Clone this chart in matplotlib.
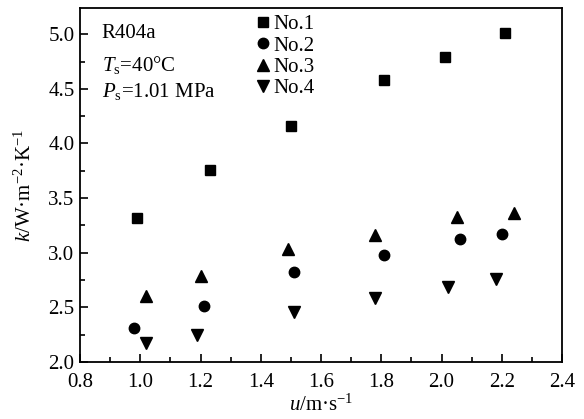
import numpy as np
import matplotlib
matplotlib.use("Agg")
import matplotlib.pyplot as plt
from matplotlib.ticker import MultipleLocator

plt.rcParams['font.family'] = ['Liberation Serif', 'DejaVu Serif']
plt.rcParams['mathtext.fontset'] = 'custom'
plt.rcParams['mathtext.rm'] = 'Liberation Serif'
plt.rcParams['mathtext.it'] = 'Liberation Serif:italic'

# data
u1 = [0.99, 1.23, 1.50, 1.81, 2.01, 2.21]
k1 = [3.32, 3.76, 4.16, 4.58, 4.79, 5.01]
u2 = [0.98, 1.21, 1.51, 1.81, 2.06, 2.20]
k2 = [2.31, 2.51, 2.82, 2.98, 3.13, 3.17]
u3 = [1.02, 1.20, 1.49, 1.78, 2.05, 2.24]
k3 = [2.60, 2.79, 3.03, 3.16, 3.33, 3.36]
u4 = [1.02, 1.19, 1.51, 1.78, 2.02, 2.18]
k4 = [2.17, 2.25, 2.46, 2.59, 2.69, 2.76]
labels = ['No.1', 'No.2', 'No.3', 'No.4']

fig = plt.figure(figsize=(5.84, 4.19), dpi=100)
ax = fig.add_axes([80 / 584, 1 - 362 / 419, (562 - 80) / 584, (362 - 8) / 419])

ms = 7.5
ax.plot(u1, k1, 's', color='black', ms=ms, label=labels[0])
ax.plot(u2, k2, 'o', color='black', ms=ms, label=labels[1])
ax.plot(u3, k3, '^', color='black', ms=ms + 1, label=labels[2])
ax.plot(u4, k4, 'v', color='black', ms=ms + 1, label=labels[3])

ax.set_xlim(0.8, 2.4)
ax.set_ylim(2.0, 5.24)
ax.xaxis.set_major_locator(MultipleLocator(0.2))
ax.xaxis.set_minor_locator(MultipleLocator(0.1))
ax.yaxis.set_major_locator(MultipleLocator(0.5))
ax.yaxis.set_minor_locator(MultipleLocator(0.25))
ax.xaxis.set_major_formatter(plt.FormatStrFormatter('%.1f'))
ax.yaxis.set_major_formatter(plt.FormatStrFormatter('%.1f'))
ax.tick_params(which='major', direction='in', length=6, width=1.2, labelsize=15, pad=4)
ax.tick_params(axis='x', which='major', pad=8)
ax.tick_params(which='minor', direction='in', length=3.5, width=1.2)
for s in ax.spines.values():
    s.set_linewidth(1.3)

ax.set_xlabel(r'$u$/m·s$^{-1}$', fontsize=15, labelpad=2)
ax.set_ylabel(r'$k$/W·m$^{-2}$·K$^{-1}$', fontsize=15, labelpad=9)

ax.text(0.045, 0.928, 'R404a', transform=ax.transAxes, fontsize=15, va='center')
ax.text(0.045, 0.84, r'$T_{\rm s}$=40°C', transform=ax.transAxes, fontsize=15, va='center')
ax.text(0.045, 0.765, r'$P_{\rm s}$=1.01 MPa', transform=ax.transAxes, fontsize=15, va='center')

ax.legend(loc='upper left', bbox_to_anchor=(0.328, 1.022), frameon=False, fontsize=15,
          handletextpad=0.0, labelspacing=0.08, borderpad=0.2, handlelength=1.0,
          markerscale=1.0)

fig.savefig('out.png', dpi=100)
